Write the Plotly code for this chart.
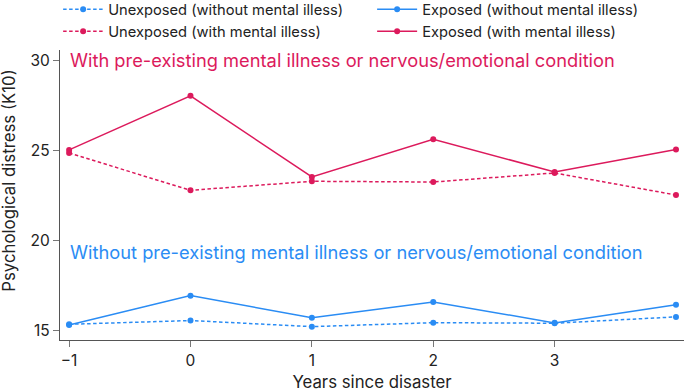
import plotly.graph_objects as go

years = [-1, 0, 1, 2, 3, 4]
tick_vals = [-1, 0, 1, 2, 3]
tick_text = ["\u22121", "0", "1", "2", "3"]
y_ticks = [15, 20, 25, 30]

unexposed_without = [15.35, 15.56, 15.22, 15.44, 15.41, 15.76]
exposed_without = [15.31, 16.94, 15.72, 16.59, 15.43, 16.43]
unexposed_with = [24.85, 22.78, 23.28, 23.24, 23.74, 22.52]
exposed_with = [25.02, 28.02, 23.52, 25.61, 23.80, 25.04]

RED = "#dc1a5c"
BLUE = "#2a8cf4"
FONT = "Inter"

fig = go.Figure()
series = [
    ("Unexposed (without mental illess)", unexposed_without, BLUE, "3.5px,2.5px"),
    ("Exposed (without mental illess)", exposed_without, BLUE, "solid"),
    ("Unexposed (with mental illess)", unexposed_with, RED, "3.5px,2.5px"),
    ("Exposed (with mental illess)", exposed_with, RED, "solid"),
]
for name, vals, col, dash in series:
    fig.add_trace(go.Scatter(
        x=years, y=vals, name=name, mode="lines+markers",
        line=dict(color=col, width=1.5, dash=dash),
        marker=dict(color=col, size=6),
    ))

fig.add_annotation(x=-1.0, y=30.0, xref="x", yref="y", xanchor="left", yanchor="middle",
                   xshift=-1, showarrow=False,
                   text="With pre-existing mental illness or nervous/emotional condition",
                   font=dict(family=FONT, size=18.3, color=RED))
fig.add_annotation(x=-1.0, y=19.35, xref="x", yref="y", xanchor="left", yanchor="middle",
                   xshift=-1, showarrow=False,
                   text="Without pre-existing mental illness or nervous/emotional condition",
                   font=dict(family=FONT, size=18.3, color=BLUE))
# y-axis title (placed above centre, as in the reference)
fig.add_annotation(x=-0.082, y=0.552, xref="paper", yref="paper", xanchor="center", yanchor="middle",
                   textangle=-90, showarrow=False, text="Psychological distress (K10)",
                   font=dict(family=FONT, size=16.8, color="#222"))

fig.update_layout(
    width=685, height=392,
    margin=dict(l=60, r=1, t=50, b=52, autoexpand=False),
    paper_bgcolor="white", plot_bgcolor="white",
    font=dict(family=FONT, size=14, color="#222"),
    legend=dict(orientation="h", x=-0.003, y=1.196, xref="paper", yref="paper",
                xanchor="left", yanchor="top", entrywidth=259, entrywidthmode="pixels",
                font=dict(family=FONT, size=14.7, color="#222"), tracegroupgap=0,
                itemwidth=40, bgcolor="rgba(0,0,0,0)"),
    showlegend=True,
)
fig.update_xaxes(range=[-1.075, 4.066], tickvals=tick_vals, ticktext=tick_text,
                 showline=True, linecolor="#555", linewidth=1.3, ticks="outside",
                 tickcolor="#777", ticklen=6, tickwidth=1.2, showgrid=False, zeroline=False,
                 tickfont=dict(family=FONT, size=15.5, color="#222"),
                 title=dict(text="Years since disaster", font=dict(family=FONT, size=16.8, color="#222"), standoff=15))
fig.update_yaxes(range=[14.48, 30.56], tickvals=y_ticks,
                 showline=True, linecolor="#555", linewidth=1.3, ticks="outside",
                 tickcolor="#777", ticklen=6, tickwidth=1.2, showgrid=False, zeroline=False,
                 tickfont=dict(family=FONT, size=15.5, color="#222"))

fig.write_html("out.html")
